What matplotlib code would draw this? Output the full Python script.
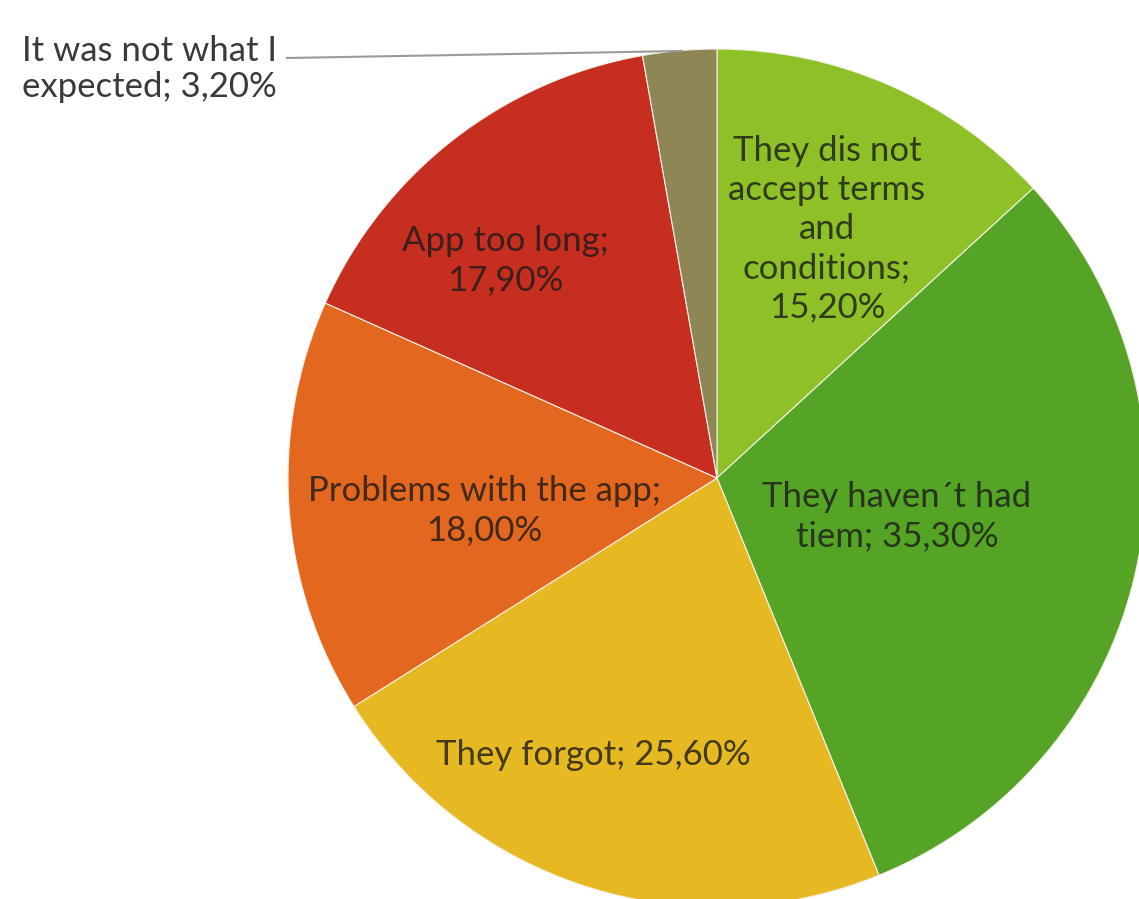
import matplotlib
matplotlib.use("Agg")
import matplotlib.pyplot as plt

# slices, clockwise from 12 o'clock
reasons = [
    "They dis not\naccept terms\nand\nconditions;\n",
    "They haven\u00b4t had\ntiem;",
    "They forgot;",
    "Problems with the app;\n",
    "App too long;\n",
    "It was not what I\nexpected;",
]
shares = [15.2, 35.3, 25.6, 18.0, 17.9, 3.2]
colors = ["#8dc127", "#56a426", "#e6b923", "#e3671e", "#c62e20", "#8f8655"]

# label centres in pixel coords (x, y from top)
label_pos = [(827, 229), (897, 517), (593, 755), (484, 511), (505, 261), (22, 69)]

W, H = 1139, 899
fig = plt.figure(figsize=(W / 100, H / 100), dpi=100)
ax = fig.add_axes([0, 0, 1, 1])

cx, cy, r = 717, H - 478, 429
ax.pie(shares, colors=colors, startangle=90, counterclock=False,
       center=(cx, cy), radius=r, frame=True,
       wedgeprops=dict(edgecolor="#f4f0e8", linewidth=0.8))
ax.set_xlim(0, W)
ax.set_ylim(0, H)
ax.set_aspect("equal")
ax.axis("off")


def fmt(v):
    return f"{v:.2f}".replace(".", ",") + "%"


for i, (name, v) in enumerate(zip(reasons, shares)):
    x, y = label_pos[i]
    if name.endswith("\n"):
        txt = name + fmt(v)
    else:
        txt = name + " " + fmt(v)
    if i == 5:
        ax.text(x, H - y, txt, ha="left", va="center", fontsize=25,
                family="Lato", color="#3a3a3a", linespacing=1.15)
    else:
        ax.text(x, H - y, txt, ha="center", va="center", fontsize=25,
                family="Lato", color="#1a1a1a", alpha=0.8, linespacing=1.27)

# leader line for the small slice
ax.plot([287, 682], [H - 58, H - 51], color="#9a9a9a", lw=1.5)

fig.savefig("out.png", dpi=100, facecolor="white")
